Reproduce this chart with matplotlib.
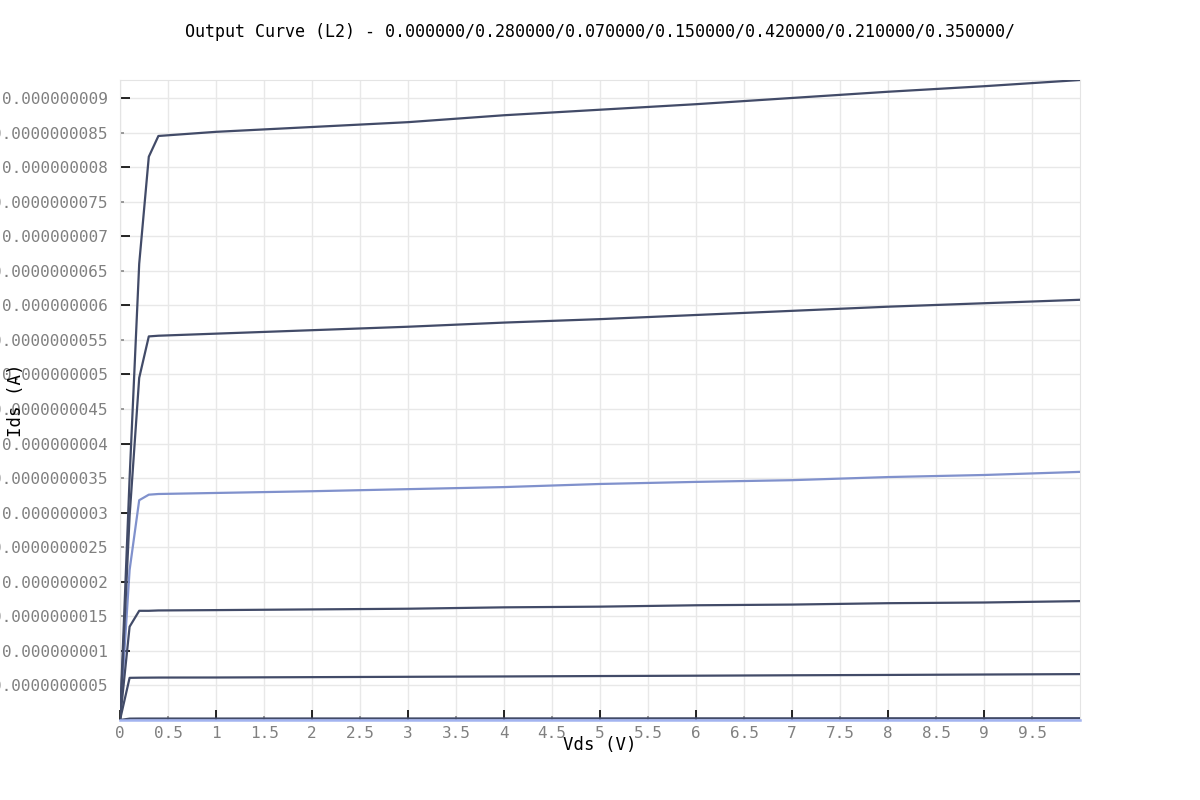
import numpy as np
import matplotlib
matplotlib.use("Agg")
import matplotlib.pyplot as plt
from matplotlib import ticker

# Vds sweep points (V) and drain current (nA) per Vgs
vds = [0, 0.1, 0.2, 0.3, 0.4, 1, 2, 3, 4, 5, 6, 7, 8, 9, 10]
vgs = ["0.000000", "0.280000", "0.070000", "0.150000", "0.420000", "0.210000", "0.350000"]
ids_000 = [0] * 15
ids_028 = [0, 2.17, 3.18, 3.26, 3.27, 3.285, 3.31, 3.34, 3.37, 3.415, 3.445, 3.47, 3.515, 3.545, 3.59]
ids_007 = [0, 0.02, 0.021, 0.021, 0.021, 0.021, 0.022, 0.022, 0.023, 0.023, 0.024, 0.024, 0.025, 0.025, 0.026]
ids_015 = [0, 0.61, 0.612, 0.613, 0.614, 0.615, 0.62, 0.625, 0.63, 0.636, 0.641, 0.647, 0.652, 0.658, 0.664]
ids_042 = [0, 3.5, 6.6, 8.15, 8.45, 8.51, 8.58, 8.65, 8.75, 8.83, 8.91, 9.00, 9.09, 9.17, 9.26]
ids_021 = [0, 1.35, 1.58, 1.58, 1.585, 1.59, 1.60, 1.61, 1.63, 1.64, 1.66, 1.67, 1.69, 1.70, 1.72]
ids_035 = [0, 2.95, 4.95, 5.55, 5.56, 5.59, 5.64, 5.69, 5.75, 5.80, 5.86, 5.92, 5.98, 6.03, 6.08]
series = [ids_000, ids_028, ids_007, ids_015, ids_042, ids_021, ids_035]
colors = ["#a3b4f0", "#8091cc", "#424b68", "#424b68", "#424b68", "#424b68", "#424b68"]

mono = "DejaVu Sans Mono"
fig = plt.figure(figsize=(12, 8), dpi=100)
ax = fig.add_axes([0.1, 0.1, 0.8, 0.8])

x = np.array(vds)
for i, (ys, c) in enumerate(zip(series, colors)):
    if i == 0:
        # zero-current trace sits on the axis; keep it visible on top
        ax.plot(x, np.array(ys) * 1e-9, color=c, lw=1.8, zorder=4, clip_on=False)
    else:
        ax.plot(x, np.array(ys) * 1e-9, color=c, lw=1.6, zorder=3)

ax.set_xlim(0, 10)
ax.set_ylim(0, 9.26e-9)

ax.xaxis.set_major_locator(ticker.FixedLocator(np.arange(0, 10, 1)))
ax.xaxis.set_minor_locator(ticker.FixedLocator(np.arange(0.5, 10, 1)))
ax.yaxis.set_major_locator(ticker.FixedLocator(np.arange(1, 10, 1) * 1e-9))
ax.yaxis.set_minor_locator(ticker.FixedLocator(np.arange(0.5, 9, 1) * 1e-9))

xfmt = ticker.FuncFormatter(lambda v, p: ("%g" % round(v, 2)))
yfmt = ticker.FuncFormatter(lambda v, p: ("%.10f" % v).rstrip("0"))
ax.xaxis.set_major_formatter(xfmt)
ax.xaxis.set_minor_formatter(xfmt)
ax.yaxis.set_major_formatter(yfmt)
ax.yaxis.set_minor_formatter(yfmt)

for which, ln, col in (("major", 7, "black"), ("minor", 3, "#888888")):
    ax.tick_params(axis="both", which=which, direction="in", length=ln, width=1.2,
                   color=col, labelcolor="#808080", labelsize=11.5)
ax.tick_params(axis="y", which="both", pad=9)
ax.tick_params(axis="x", which="both", pad=4)
for lab in ax.get_xticklabels(which="both") + ax.get_yticklabels(which="both"):
    lab.set_fontfamily(mono)

ax.grid(True, which="both", color="#e8e8e8", lw=1)
ax.set_axisbelow(True)
for s in ax.spines.values():
    s.set_color("#e4e4e4")

fig.text(0.5, 0.96, "Output Curve (L2) - " + "/".join(vgs) + "/", ha="center", va="center",
         family=mono, fontsize=12)
fig.text(0.5, 0.069, "Vds (V)", ha="center", va="center", family=mono, fontsize=12.5)
fig.text(0.013, 0.5, "Ids (A)", ha="center", va="center", rotation=90, family=mono, fontsize=12.5)

fig.savefig("out.png", dpi=100)
